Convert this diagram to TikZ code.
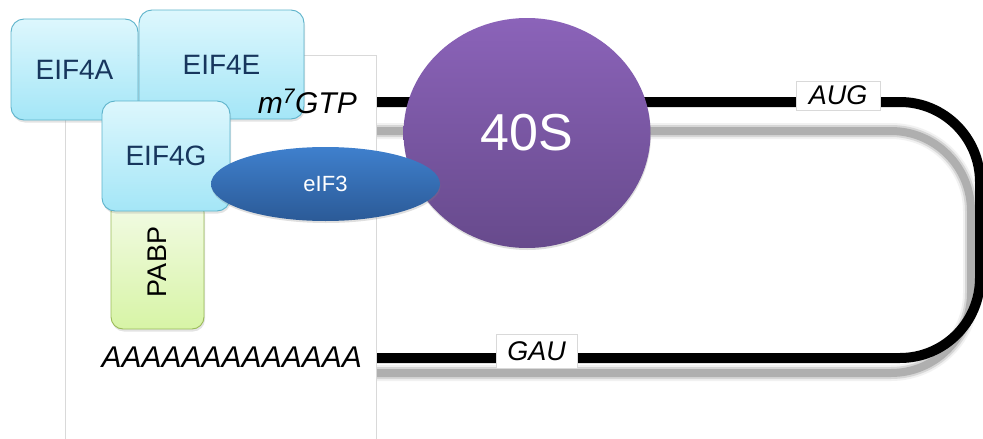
\documentclass[tikz,border=0pt]{standalone}
\usepackage{fontspec}
\setmainfont{Liberation Sans}
\usetikzlibrary{shapes.geometric,shadows}
\definecolor{cyanTop}{HTML}{DDF7FD}
\definecolor{cyanBot}{HTML}{A4E6F7}
\definecolor{cyanLine}{HTML}{5DB3CB}
\definecolor{boxText}{HTML}{17365D}
\definecolor{greenTop}{HTML}{F3FBE6}
\definecolor{greenBot}{HTML}{D7F4A6}
\definecolor{greenLine}{HTML}{9BBB59}
\definecolor{purpTop}{HTML}{8B63B9}
\definecolor{purpBot}{HTML}{674A8C}
\definecolor{blueTop}{HTML}{3F80CD}
\definecolor{blueBot}{HTML}{2B5A97}
\definecolor{frameGray}{HTML}{D9D9D9}
\definecolor{shadowGray}{HTML}{A6A6A6}
\tikzset{
  factor/.style={rectangle, rounded corners=13pt, draw=cyanLine, line width=0.9pt,
    top color=cyanTop, bottom color=cyanBot, text=boxText, inner sep=0pt,
    font=\fontsize{28}{30}\selectfont,
    drop shadow={opacity=0.22, shadow xshift=1pt, shadow yshift=-2.5pt}},
  pabpbox/.style={rectangle, rounded corners=12pt, draw=greenLine, line width=0.9pt,
    top color=greenTop, bottom color=greenBot, inner sep=0pt,
    drop shadow={opacity=0.22, shadow xshift=1pt, shadow yshift=-2.5pt}},
  codon/.style={rectangle, draw=frameGray, line width=0.6pt, fill=white, inner sep=0pt,
    font=\fontsize{27}{29}\selectfont\itshape},
  mrna/.style={line width=10pt, black, rounded corners=80pt},
  mshadow/.style={shadowGray, rounded corners=80pt},
  endtext/.style={font=\fontsize{30}{32}\selectfont\itshape, inner sep=0pt}
}
\begin{document}
\begin{tikzpicture}[x=1pt,y=-1pt]
\useasboundingbox (0,0) rectangle (983,439);
\fill[white] (0,0) rectangle (983,439);
% frame
\draw[frameGray, line width=0.8pt] (65.5,450) -- (65.5,55.5) -- (376.5,55.5) -- (376.5,450);
% coordinates of the mRNA loop
\coordinate (capEnd) at (377,102);
\coordinate (tr) at (980,102);
\coordinate (br) at (980,358);
\coordinate (tailEnd) at (377,358);
\coordinate (sCapEnd) at (377,131);
\coordinate (str) at (971,131);
\coordinate (sbr) at (971,373);
\coordinate (sTailEnd) at (377,373);
% blurred shadow of the strand
\draw[mshadow, line width=16pt, opacity=0.15] (sCapEnd) -- (str) -- (sbr) -- (sTailEnd);
\draw[mshadow, line width=12pt, opacity=0.35] (sCapEnd) -- (str) -- (sbr) -- (sTailEnd);
\draw[mshadow, line width=8pt, opacity=0.8] (sCapEnd) -- (str) -- (sbr) -- (sTailEnd);
% strand
\draw[mrna] (capEnd) -- (tr) -- (br) -- (tailEnd);
% codons
\node[codon, minimum width=84pt, minimum height=29pt] (aug) at (838,95.5) {AUG};
\node[codon, minimum width=81pt, minimum height=34pt] (gau) at (536.5,351) {GAU};
% 40S
\node[ellipse, inner sep=0pt, minimum width=247pt, minimum height=230pt,
  top color=purpTop, bottom color=purpBot, text=white,
  font=\fontsize{52}{54}\selectfont,
  drop shadow={opacity=0.25, shadow xshift=0.5pt, shadow yshift=-2pt}] (s40) at (527,133) {40S};
% PABP
\node[pabpbox, minimum width=93pt, minimum height=129pt] (pabp) at (157.5,264.5) {};
\node[rotate=90, font=\fontsize{27}{29}\selectfont, inner sep=0pt] (pabptxt) at (157,262) {PABP};
% initiation factors
\node[factor, minimum width=127pt, minimum height=101pt] (e4a) at (74.5,69.5) {EIF4A};
\node[factor, minimum width=165pt, minimum height=109pt] (e4e) at (221.5,64.5) {EIF4E};
% cap and tail labels
\node[endtext, anchor=base east] (cap) at (357,113) {m\textsuperscript{7}GTP};
\node[endtext, anchor=base east] (tail) at (362,367) {AAAAAAAAAAAAA};
\node[factor, minimum width=128pt, minimum height=110pt] (e4g) at (166,156) {EIF4G};
% eIF3
\node[ellipse, inner sep=0pt, minimum width=229pt, minimum height=74pt,
  top color=blueTop, bottom color=blueBot, text=white,
  font=\fontsize{22}{24}\selectfont,
  drop shadow={opacity=0.25, shadow xshift=0.5pt, shadow yshift=-2pt}] (eif3) at (325.5,184) {eIF3};
\end{tikzpicture}
\end{document}
